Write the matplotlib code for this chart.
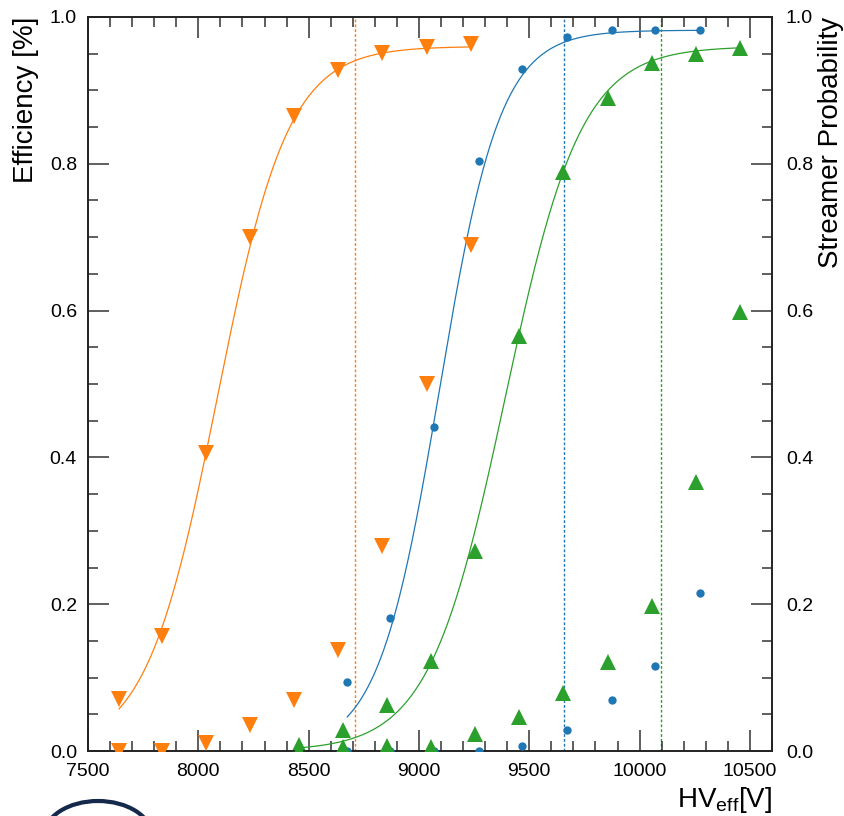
import numpy as np
import matplotlib
matplotlib.use("Agg")
import matplotlib.pyplot as plt
from matplotlib.patches import Arc
from matplotlib.transforms import IdentityTransform
from matplotlib.ticker import MultipleLocator, FormatStrFormatter

plt.rcParams["font.family"] = ["Liberation Sans", "DejaVu Sans"]
plt.rcParams["mathtext.fontset"] = "custom"
plt.rcParams["mathtext.rm"] = "Liberation Sans"
plt.rcParams["mathtext.it"] = "Liberation Sans:italic"

# HV scan, gas mixture 1 (orange)
hv_a = [7641, 7836, 8035, 8235, 8435, 8634, 8834, 9038, 9238]
eff_a = [0.071, 0.157, 0.406, 0.700, 0.865, 0.928, 0.951, 0.959, 0.963]
str_a = [0.0, 0.0, 0.011, 0.035, 0.069, 0.138, 0.279, 0.500, 0.690]

# gas mixture 2 (blue)
hv_b = [8675, 8870, 9070, 9274, 9469, 9673, 9873, 10072, 10272]
eff_b = [0.094, 0.181, 0.441, 0.804, 0.929, 0.973, 0.982, 0.982, 0.982]
str_b = [0.0, 0.0, 0.0, 0.0, 0.007, 0.028, 0.070, 0.116, 0.215]

# gas mixture 3 (green)
hv_c = [8455, 8655, 8855, 9055, 9255, 9455, 9655, 9855, 10055, 10255, 10455]
eff_c = [0.008, 0.029, 0.062, 0.123, 0.273, 0.566, 0.789, 0.890, 0.937, 0.950, 0.958]
str_c = [0.0, 0.005, 0.007, 0.005, 0.023, 0.047, 0.079, 0.121, 0.197, 0.366, 0.598]

# sigmoid fit parameters: plateau, slope [1/V], HV at 50%
fit_a = [0.96, 0.0062, 8085]
fit_b = [0.982, 0.0072, 9092]
fit_c = [0.96, 0.0058, 9390]

# working points
wp = [8710, 9658, 10095]

colors = ["#ff7f0e", "#1f77b4", "#2ca02c"]


def sigmoid(hv, emax, slope, hv50):
    return emax / (1 + np.exp(-slope * (hv - hv50)))


fig = plt.figure(figsize=(8.45, 8.16), dpi=100)
ax = fig.add_axes([88 / 845, 65 / 816, (772 - 88) / 845, (751 - 17) / 816])
ax2 = ax.twinx()

for a in (ax, ax2):
    a.set_xlim(7500, 10600)
    a.set_ylim(0, 1)
    for s in a.spines.values():
        s.set_linewidth(1.2)
        s.set_color("#222222")

ax.xaxis.set_major_locator(MultipleLocator(500))
ax.xaxis.set_minor_locator(MultipleLocator(100))
for a in (ax, ax2):
    a.yaxis.set_major_locator(MultipleLocator(0.2))
    a.yaxis.set_minor_locator(MultipleLocator(0.05))
    a.yaxis.set_major_formatter(FormatStrFormatter("%.1f"))

ax.tick_params(axis="x", which="both", direction="in", top=True, bottom=True,
               labelsize=14, pad=9, color="#333333")
ax.tick_params(axis="y", which="both", direction="in", left=True, right=False,
               labelsize=14, pad=8, color="#333333")
ax2.tick_params(axis="y", which="both", direction="in", left=False, right=True,
                labelsize=14, pad=10, color="#333333")
for a in (ax, ax2):
    a.tick_params(which="major", length=15, width=1.1)
    a.tick_params(which="minor", length=7, width=1.1)

# working point markers
for x, c in zip(wp, colors):
    ax.axvline(x, color=c, lw=1.0, ls=(0, (2, 1.5)), zorder=1)

# fits
for hv, fit, c in zip((hv_a, hv_b, hv_c), (fit_a, fit_b, fit_c), colors):
    xs = np.linspace(hv[0], hv[-1], 400)
    ax.plot(xs, sigmoid(xs, *fit), color=c, lw=0.9, zorder=2)

# efficiency
ax.plot(hv_a, eff_a, ls="none", marker="v", ms=11.5, mew=0, color=colors[0], zorder=3)
ax.plot(hv_b, eff_b, ls="none", marker="o", ms=6, mew=0, color=colors[1], zorder=3)
ax.plot(hv_c, eff_c, ls="none", marker="^", ms=11.5, mew=0, color=colors[2], zorder=3)

# streamer probability
ax2.plot(hv_a, str_a, ls="none", marker="v", ms=11.5, mew=0, color=colors[0], zorder=3)
ax2.plot(hv_b, str_b, ls="none", marker="o", ms=6, mew=0, color=colors[1], zorder=3)
ax2.plot(hv_c, str_c, ls="none", marker="^", ms=11.5, mew=0, color=colors[2], zorder=3)

fig.text(26 / 845, 1 - 17 / 816, "Efficiency [%]", rotation=90, ha="center", va="top",
         fontsize=20)
fig.text(831 / 845, 1 - 17 / 816, "Streamer Probability", rotation=90, ha="center",
         va="top", fontsize=20)
fig.text(772 / 845, 1 / 816, r"HV$_{\mathrm{eff}}$[V]", ha="right", va="bottom",
         fontsize=20)

# logo stroke at the bottom edge
fig.add_artist(Arc((98, -20), 108, 70, theta1=0, theta2=180, lw=3.0,
                   color="#15294d", transform=IdentityTransform()))

fig.savefig("out.png", dpi=100)
